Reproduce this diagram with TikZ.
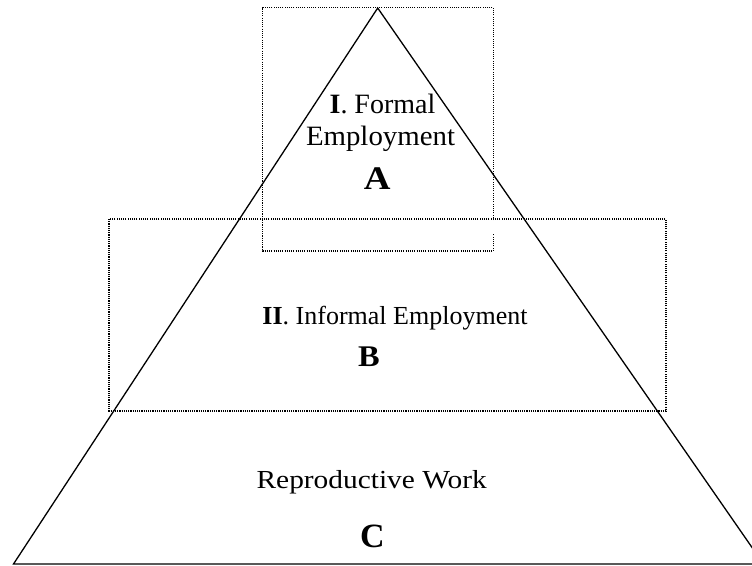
\documentclass[tikz,border=0pt]{standalone}
\usepackage{fontspec}
\setmainfont{Liberation Serif}
\begin{document}
\begin{tikzpicture}[x=1pt,y=-1pt,
  tri/.style={draw=black,line width=1.3pt,line join=miter},
  dotbox/.style={draw=black,line width=1.1pt,dash pattern=on 1.1pt off 1.1pt},
  lbl/.style={anchor=base,inner sep=0pt,font=\fontsize{26}{30}\selectfont},
  toplbl/.style={anchor=base,inner sep=0pt,font=\fontsize{28}{32}\selectfont},
  big/.style={anchor=base,inner sep=0pt,font=\bfseries\fontsize{#1}{#1}\selectfont}]
\useasboundingbox (0,0) rectangle (752,565);
\clip (0,0) rectangle (752,565);
% pyramid
\coordinate (apex) at (377.7,8);
\coordinate (bl) at (13.5,564);
\coordinate (br) at (763.5,564);
\draw[tri] (bl) -- (apex) -- (br) -- cycle;
% dotted boxes
\coordinate (f1) at (262.7,7.5);
\coordinate (f1r) at (493.3,7.5);
\coordinate (fg1) at (493.3,220);
\coordinate (fg2) at (493.3,234);
\coordinate (f2) at (493.3,251);
\coordinate (f2l) at (262.7,251);
\coordinate (i1) at (109,219);
\coordinate (i2) at (666,411);
\draw[dotbox] (fg1) -- (f1r) -- (f1) -- (f2l) -- (f2) -- (fg2);
\draw[dotbox] (i1) rectangle (i2);
% labels
\node[toplbl] (formal1) at (382.5,113.3) {\textbf{I}. Formal};
\node[toplbl] (formal2) at (380.5,145) {\scalebox{1.03}[1]{Employment}};
\node[big=33] (la) at (377.3,189) {\scalebox{1.12}[1]{A}};
\node[lbl] (informal) at (395,324.3) {\textbf{II}. Informal Employment};
\node[big=30] (lb) at (369,366) {\scalebox{1.08}[1]{B}};
\node[lbl] (repro) at (371.7,488.3) {\scalebox{1.13}[1]{Reproductive Work}};
\node[big=34] (lc) at (372.5,547) {C};
\end{tikzpicture}
\end{document}
